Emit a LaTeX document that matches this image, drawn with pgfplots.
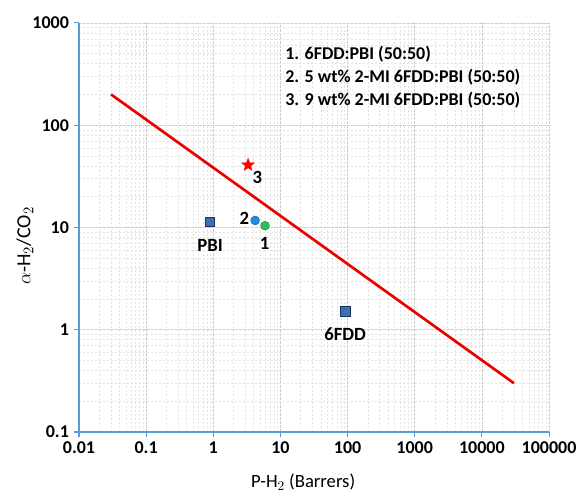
\documentclass[border=0pt]{standalone}
\usepackage{pgfplots}
\pgfplotsset{compat=1.18}
\usepackage{fontspec}
\setmainfont{Carlito}
\definecolor{axblue}{HTML}{5B9BD5}
\definecolor{sqblue}{HTML}{3A6FB8}
\definecolor{circblue}{HTML}{1E8FE0}
\definecolor{circgreen}{HTML}{2DBE5A}
\pgfdeclareplotmark{fstar}{%
  \pgfpathmoveto{\pgfpointpolar{90}{\pgfplotmarksize}}%
  \pgfpathlineto{\pgfpointpolar{126}{0.42\pgfplotmarksize}}%
  \pgfpathlineto{\pgfpointpolar{162}{\pgfplotmarksize}}%
  \pgfpathlineto{\pgfpointpolar{198}{0.42\pgfplotmarksize}}%
  \pgfpathlineto{\pgfpointpolar{234}{\pgfplotmarksize}}%
  \pgfpathlineto{\pgfpointpolar{270}{0.42\pgfplotmarksize}}%
  \pgfpathlineto{\pgfpointpolar{306}{\pgfplotmarksize}}%
  \pgfpathlineto{\pgfpointpolar{342}{0.42\pgfplotmarksize}}%
  \pgfpathlineto{\pgfpointpolar{18}{\pgfplotmarksize}}%
  \pgfpathlineto{\pgfpointpolar{54}{0.42\pgfplotmarksize}}%
  \pgfpathclose
  \pgfusepathqfillstroke}
\begin{document}
\begin{tikzpicture}
\begin{axis}[
  scale only axis,
  width=352.5pt, height=306.75pt,
  xmode=log, ymode=log,
  xmin=0.01, xmax=100000, ymin=0.1, ymax=1000,
  axis x line=bottom, axis y line=left,
  axis line style={axblue, line width=1.1pt, -},
  xtick={0.01,0.1,1,10,100,1000,10000,100000},
  xticklabels={0.01,0.1,1,10,100,1000,10000,100000},
  ytick={0.1,1,10,100,1000},
  yticklabels={0.1,1,10,100,1000},
  tick style={axblue, line width=0.8pt},
  major tick length=4pt,
  tick align=outside,
  minor tick length=0pt,
  grid=both,
  major grid style={gray!40, dash pattern=on 2pt off 1pt, line width=0.45pt},
  minor grid style={gray!22, dash pattern=on 1.5pt off 1.5pt, line width=0.35pt},
  ticklabel style={font=\fontsize{13.5}{15}\selectfont\bfseries},
  /pgf/number format/assume math mode=true,
  xlabel={P-H$_2$ (Barrers)},
  ylabel={$\alpha$-H$_2$/CO$_2$},
  xlabel style={font=\fontsize{14}{16}\selectfont, at={(rel axis cs:0.477,-0.122)}, anchor=center},
  ylabel style={font=\fontsize{15}{17}\selectfont, at={(rel axis cs:-0.115,0.455)}, anchor=center},
  clip=false,
]
\addplot[red!92!black, line width=2pt] coordinates {(0.03,200) (30000,0.3)};
\addplot[only marks, mark=square*, mark size=3.6pt, mark options={fill=sqblue, draw=sqblue!45!black, line width=0.6pt}] coordinates {(0.895,11.3) (92,1.52)};
\addplot[only marks, mark=*, mark size=3.3pt, mark options={fill=circblue, draw=circblue!75!black}] coordinates {(4.2,11.7)};
\addplot[only marks, mark=*, mark size=3.3pt, mark options={fill=circgreen, draw=circgreen!75!black}] coordinates {(5.9,10.4)};
\addplot[only marks, mark=fstar, mark size=5pt, mark options={fill=red, draw=red, line width=0.3pt}] coordinates {(3.3,40.8)};
\node[font=\fontsize{14}{16}\selectfont\bfseries] at (axis cs:0.895,6.6) {PBI};
\node[font=\fontsize{14}{16}\selectfont\bfseries] at (axis cs:92,0.9) {6FDD};
\node[font=\fontsize{14}{16}\selectfont\bfseries] at (axis cs:2.9,12.2) {2};
\node[font=\fontsize{14}{16}\selectfont\bfseries] at (axis cs:5.8,6.9) {1};
\node[font=\fontsize{14}{16}\selectfont\bfseries] at (axis cs:4.55,30.5) {3};
\node[anchor=north west, inner sep=0pt, align=left, font=\fontsize{13.5}{17.3}\selectfont\bfseries] at (axis cs:11.7,600) {1. 6FDD:PBI (50:50)\\2. 5 wt\% 2-MI 6FDD:PBI (50:50)\\3. 9 wt\% 2-MI 6FDD:PBI (50:50)};
\path[use as bounding box] (rel axis cs:-0.168,-0.1516) rectangle (rel axis cs:1.068,1.056);
\end{axis}
\end{tikzpicture}
\end{document}
